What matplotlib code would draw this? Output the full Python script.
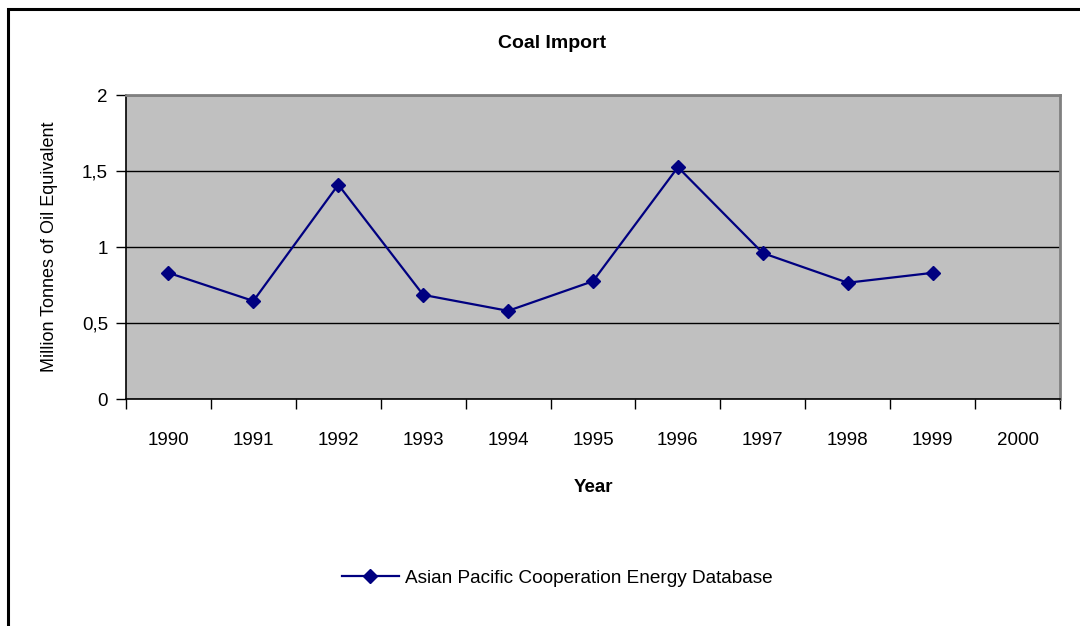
import matplotlib.pyplot as plt
from matplotlib.patches import Rectangle
from matplotlib.ticker import FixedLocator, FuncFormatter

plt.rcParams['font.family'] = ['Liberation Sans', 'DejaVu Sans']

years = ['1990', '1991', '1992', '1993', '1994', '1995', '1996', '1997', '1998', '1999', '2000']
coal_import = [0.83, 0.645, 1.41, 0.685, 0.58, 0.775, 1.525, 0.96, 0.765, 0.83]
series_name = 'Asian Pacific Cooperation Energy Database'

W, H = 1080, 626
fig = plt.figure(figsize=(W / 100, H / 100), dpi=100)

# outer chart border (only left/top visible in the reference)
fig.patches.append(Rectangle((8 / W, -0.1), 1.2, 1 - 9 / H + 0.1, transform=fig.transFigure,
                             fill=False, edgecolor='black', linewidth=2.2))

ax = fig.add_axes([126 / W, 1 - 399 / H, (1060 - 126) / W, (399 - 95) / H])
ax.set_facecolor('#c0c0c0')

x = list(range(len(coal_import)))
ax.plot(x, coal_import, color='#000080', lw=1.6, marker='D', markersize=7, label=series_name)

ax.set_xlim(-0.5, len(years) - 0.5)
ax.set_ylim(0, 2)

ax.set_xticks(range(len(years)))
ax.set_xticklabels(years)
ax.xaxis.set_minor_locator(FixedLocator([i - 0.5 for i in range(len(years) + 1)]))
ax.tick_params(axis='x', which='major', length=0, pad=24, labelsize=13.5)
ax.tick_params(axis='x', which='minor', length=7, width=1, direction='out')
ax.set_yticks([0, 0.5, 1, 1.5, 2])
ax.yaxis.set_major_formatter(FuncFormatter(lambda v, p: ('%g' % v).replace('.', ',')))
ax.tick_params(axis='y', length=7, width=1, direction='out', labelsize=13.5, pad=6)

ax.grid(axis='y', color='black', linewidth=1)
ax.set_axisbelow(True)

for side in ['top', 'right']:
    ax.spines[side].set_color('#808080')
    ax.spines[side].set_linewidth(2)
for side in ['left', 'bottom']:
    ax.spines[side].set_color('black')
    ax.spines[side].set_linewidth(1.2)

fig.text(552 / W, 1 - 43 / H, 'Coal Import', fontsize=14, fontweight='bold', ha='center', va='center')
ax.set_xlabel('Year', fontsize=13.5, fontweight='bold', labelpad=21)
ax.set_ylabel('Million Tonnes of Oil Equivalent', fontsize=13, labelpad=17)

fig.legend(loc='center', bbox_to_anchor=(557 / W, 1 - 578 / H), frameon=False,
           fontsize=13.7, handlelength=3.0, handletextpad=0.3)

fig.savefig('out.png', dpi=100)
